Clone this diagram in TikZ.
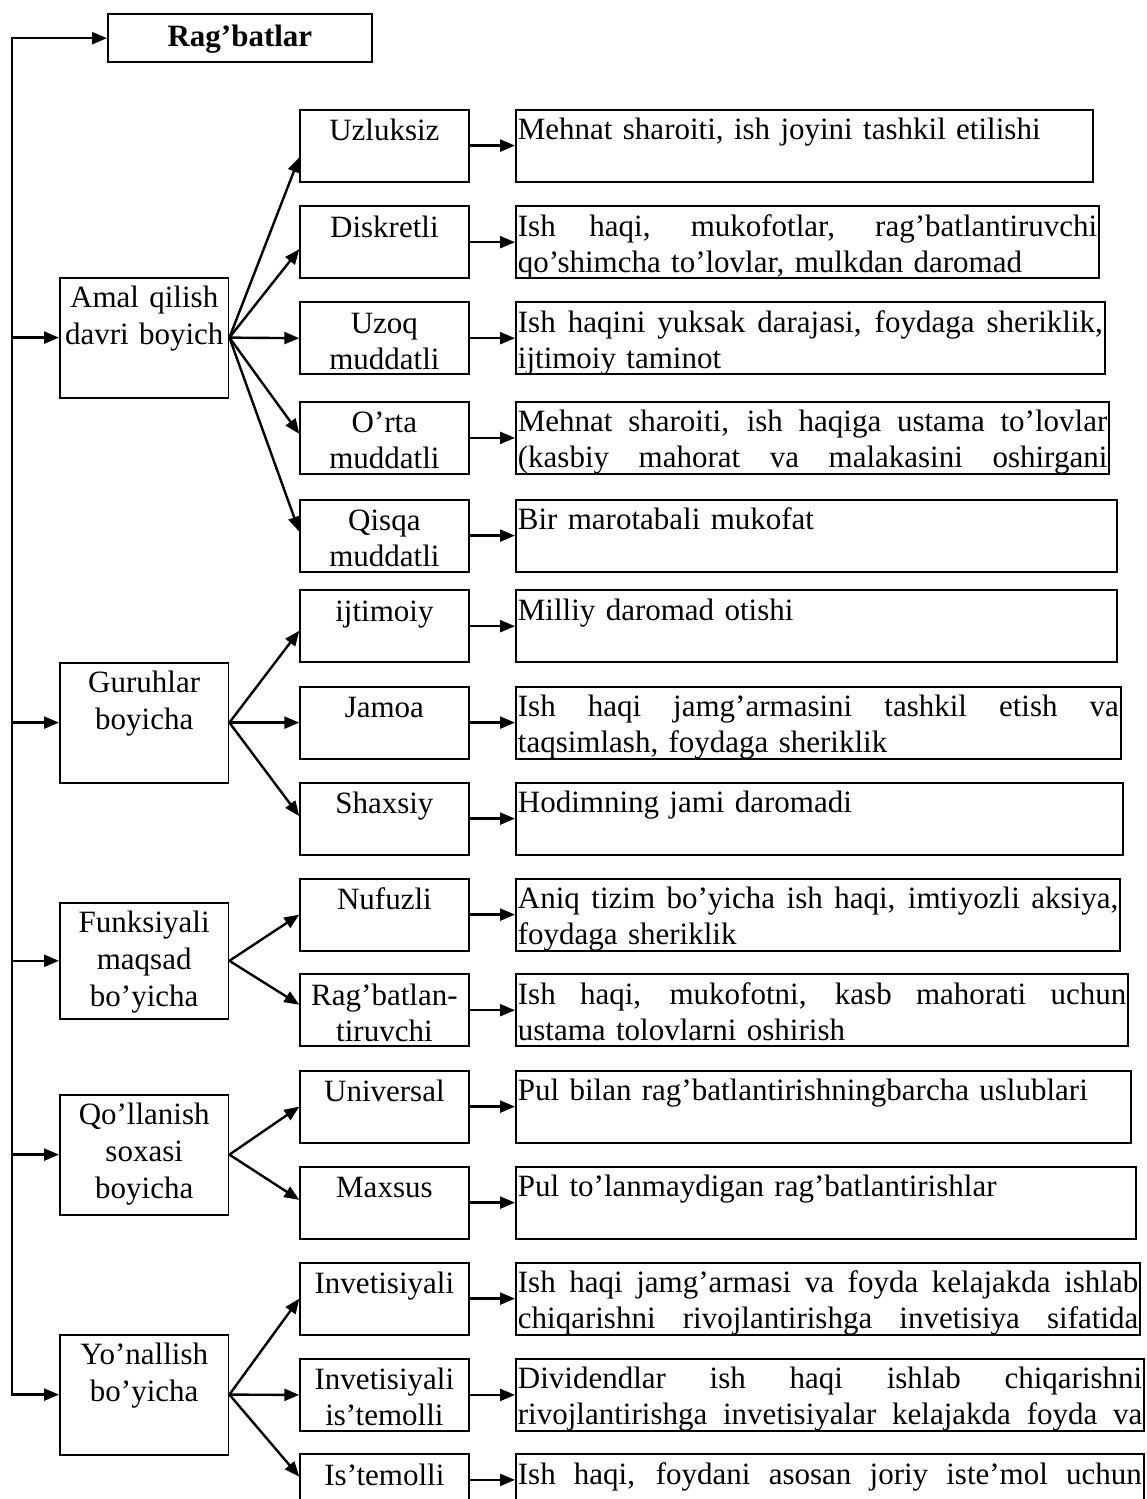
\documentclass[tikz,border=0pt]{standalone}
\usepackage{fontspec}
\setmainfont{Liberation Serif}
\usetikzlibrary{arrows.meta}
\newcommand{\jline}[1]{\hbox to \hsize{\spaceskip=0.25em plus 2em minus 0.05em\relax #1}}

\begin{document}
\begin{tikzpicture}[x=0.5pt,y=-0.5pt,
    box/.style={draw,line width=0.9pt,inner xsep=0pt,inner ysep=0pt,anchor=north west},
    topbox/.style={box,text width=132pt,align=center,text height=16pt,text depth=8pt,font=\fontsize{15.5pt}{18pt}\selectfont\bfseries},
    pbox/.style={box,text width=84.3pt,align=center,text height=15pt,text depth=45pt,font=\fontsize{15.5pt}{18.5pt}\selectfont},
    cbox/.style={box,text width=84.2pt,align=center,text height=15.5pt,text depth=20.5pt,font=\fontsize{15.5pt}{18pt}\selectfont},
    rbox/.style={box,inner xsep=1pt,align=left,text height=15pt,text depth=21pt,font=\fontsize{15.5pt}{18pt}\selectfont},
    arr/.style={line width=1.2pt,-{Triangle[length=7.5pt,width=6pt]}},
    arrb/.style={line width=1.2pt,{Triangle[length=7.5pt,width=6pt]}-{Triangle[length=7.5pt,width=6pt]}}]
    \useasboundingbox (0,0) rectangle (1146,1499);
    \clip (0,0) rectangle (1146,1499);
    \node[topbox] (rag) at (107,13.3) {Rag’batlar};
    \node[pbox] (amal) at (59,276.7) {Amal qilish\\davri boyich};
    \node[pbox] (guruh) at (59,661.7) {Guruhlar\\boyicha};
    \node[pbox,text depth=43.2pt] (funk) at (59,901.7) {Funksiyali\\maqsad\\bo’yicha};
    \node[pbox] (qoll) at (59,1093.7) {Qo’llanish\\soxasi\\boyicha};
    \node[pbox] (yon) at (59,1333.7) {Yo’nallish\\bo’yicha};
    \node[cbox] (uzl) at (299.3,108.7) {Uzluksiz};
    \node[cbox] (disk) at (299.3,205.3) {Diskretli};
    \node[cbox] (uzoq) at (299.3,301.3) {Uzoq\\muddatli};
    \node[cbox] (orta) at (299.3,401) {O’rta\\muddatli};
    \node[cbox] (qisqa) at (299.3,498.7) {Qisqa\\muddatli};
    \node[cbox] (ijt) at (299.3,589.3) {ijtimoiy};
    \node[cbox] (jam) at (299.3,685.7) {Jamoa};
    \node[cbox] (shax) at (299.3,781.7) {Shaxsiy};
    \node[cbox] (nuf) at (299.3,877.7) {Nufuzli};
    \node[cbox] (ragb) at (299.3,973.3) {Rag’batlan-\\tiruvchi};
    \node[cbox] (univ) at (299.3,1069.7) {Universal};
    \node[cbox] (maxs) at (299.3,1165.7) {Maxsus};
    \node[cbox] (inv) at (299.3,1261.7) {Invetisiyali};
    \node[cbox] (invis) at (299.3,1358) {Invetisiyali\\is’temolli};
    \node[cbox] (iste) at (299.3,1453.3) {Is’temolli};
    \node[rbox,text width=286.4pt] (r1) at (515,108.7) {Mehnat sharoiti, ish joyini tashkil etilishi};
    \node[rbox,text width=289.7pt] (r2) at (515,205.3) {\jline{Ish haqi, mukofotlar, rag’batlantiruvchi}\\qo’shimcha to’lovlar, mulkdan daromad};
    \node[rbox,text width=292.5pt] (r3) at (515,301.3) {\jline{Ish haqini yuksak darajasi, foydaga sheriklik,}\\ijtimoiy taminot};
    \node[rbox,text width=294.7pt] (r4) at (515,401) {\jline{Mehnat sharoiti, ish haqiga ustama to’lovlar}\\\jline{(kasbiy mahorat va malakasini oshirgani}};
    \node[rbox,text width=298.5pt] (r5) at (515,498.7) {Bir marotabali mukofat};
    \node[rbox,text width=298.5pt] (r6) at (515,589.3) {Milliy daromad otishi};
    \node[rbox,text width=300.5pt] (r7) at (515,685.7) {\jline{Ish haqi jamg’armasini tashkil etish va}\\taqsimlash, foydaga sheriklik};
    \node[rbox,text width=301.5pt] (r8) at (515,781.7) {Hodimning jami daromadi};
    \node[rbox,text width=300.2pt] (r9) at (515,877.7) {\jline{Aniq tizim bo’yicha ish haqi, imtiyozli aksiya,}\\foydaga sheriklik};
    \node[rbox,text width=304.2pt] (r10) at (515,973.3) {\jline{Ish haqi, mukofotni, kasb mahorati uchun}\\ustama tolovlarni oshirish};
    \node[rbox,text width=305.5pt] (r11) at (515,1069.7) {Pul bilan rag’batlantirishningbarcha uslublari};
    \node[rbox,text width=308.2pt] (r12) at (515,1165.7) {Pul to’lanmaydigan rag’batlantirishlar};
    \node[rbox,text width=310.2pt] (r13) at (515,1261.7) {\jline{Ish haqi jamg’armasi va foyda kelajakda ishlab}\\\jline{chiqarishni rivojlantirishga invetisiya sifatida}};
    \node[rbox,text width=312.2pt] (r14) at (515,1358) {\jline{Dividendlar ish haqi ishlab chiqarishni}\\\jline{rivojlantirishga invetisiyalar kelajakda foyda va}};
    \node[rbox,text width=312pt] (r15) at (515,1453.3) {\jline{Ish haqi, foydani asosan joriy iste’mol uchun}};
    \coordinate (t0) at (11.7,0);
    \draw[arrb] (rag.west) -| (t0 |- yon.west) -- (yon.west);
    \draw[arr] (t0 |- amal.west) -- (amal.west);
    \draw[arr] (t0 |- guruh.west) -- (guruh.west);
    \draw[arr] (t0 |- funk.west) -- (funk.west);
    \draw[arr] (t0 |- qoll.west) -- (qoll.west);
    \draw[arr] (amal.east) -- ([yshift=-5.85pt]uzl.west);
    \draw[arr] (amal.east) -- ([yshift=-3.5pt]disk.west);
    \draw[arr] (amal.east) -- (uzoq.west);
    \draw[arr] (amal.east) -- ([yshift=2pt]orta.west);
    \draw[arr] (amal.east) -- ([yshift=2pt]qisqa.west);
    \draw[arr] (guruh.east) -- ([yshift=-2.25pt]ijt.west);
    \draw[arr] (guruh.east) -- (jam.west);
    \draw[arr] (guruh.east) -- ([yshift=1.25pt]shax.west);
    \draw[arr] (funk.east) -- (nuf.west);
    \draw[arr] (funk.east) -- ([yshift=2.75pt]ragb.west);
    \draw[arr] (qoll.east) -- (univ.west);
    \draw[arr] (qoll.east) -- ([yshift=1.35pt]maxs.west);
    \draw[arr] (yon.east) -- (inv.west);
    \draw[arr] (yon.east) -- (invis.west);
    \draw[arr] (yon.east) -- ([yshift=6.8pt]iste.west);
    \draw[arr] (uzl.east) -- (r1.west);
    \draw[arr] (disk.east) -- (r2.west);
    \draw[arr] (uzoq.east) -- (r3.west);
    \draw[arr] (orta.east) -- (r4.west);
    \draw[arr] (qisqa.east) -- (r5.west);
    \draw[arr] (ijt.east) -- (r6.west);
    \draw[arr] (jam.east) -- (r7.west);
    \draw[arr] (shax.east) -- (r8.west);
    \draw[arr] (nuf.east) -- (r9.west);
    \draw[arr] (ragb.east) -- (r10.west);
    \draw[arr] (univ.east) -- (r11.west);
    \draw[arr] (maxs.east) -- (r12.west);
    \draw[arr] (inv.east) -- (r13.west);
    \draw[arr] (invis.east) -- (r14.west);
    \draw[arr] ([yshift=5.15pt]iste.east) -- ([yshift=5.15pt]r15.west);
\end{tikzpicture}
\end{document}
